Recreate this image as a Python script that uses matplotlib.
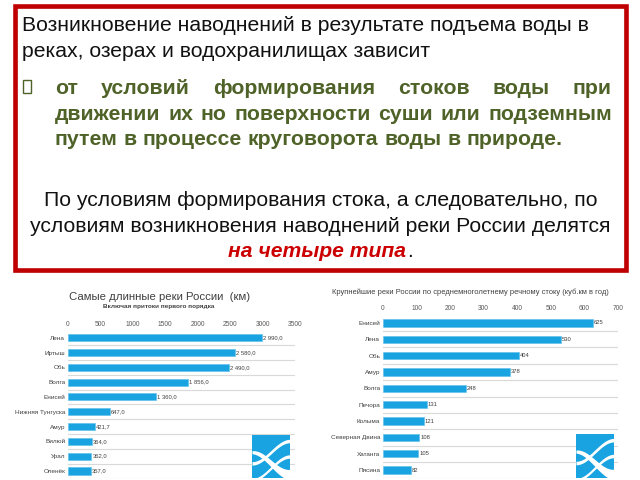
import numpy as np
import matplotlib
matplotlib.use("Agg")
import matplotlib.pyplot as plt
from matplotlib.patches import Rectangle

# ---------------- data ----------------
len_rivers = ["Лена", "Иртыш", "Обь", "Волга", "Енисей", "Нижняя Тунгуска",
              "Амур", "Вилюй", "Урал", "Оленёк"]
len_values = [2990.0, 2580.0, 2490.0, 1856.0, 1360.0, 647.0, 421.7, 364.0, 362.0, 357.0]
len_ticks = [0, 500, 1000, 1500, 2000, 2500, 3000, 3500]

flow_rivers = ["Енисей", "Лена", "Обь", "Амур", "Волга", "Печора", "Колыма",
               "Северная Двина", "Хатанга", "Пясина"]
flow_values = [625, 530, 404, 378, 248, 131, 121, 108, 105, 82]
flow_ticks = [0, 100, 200, 300, 400, 500, 600, 700]

line1 = "Возникновение наводнений в результате подъема воды в"
line2 = "реках, озерах и водохранилищах зависит"
bold_lines = ["от условий формирования стоков воды при",
              "движении их но поверхности суши или подземным",
              "путем в процессе круговорота воды в природе."]
line3 = "По условиям формирования стока, а следовательно, по"
line4 = "условиям возникновения наводнений реки России делятся"
red_part = "на четыре типа"
title_left = "Самые длинные реки России  (км)"
subtitle_left = "Включая притоки первого порядка"
title_right = "Крупнейшие реки России по среднемноголетнему речному стоку (куб.км в год)"

# ---------------- style ----------------
W, H = 640, 480
FONT = "Liberation Sans"
BAR = "#1AA3E1"
GRID = "#D9D9D9"
GREEN = "#4F6228"
DARKRED = "#C00000"

fig = plt.figure(figsize=(6.4, 4.8), dpi=100)
fig.patch.set_facecolor("white")
renderer = fig.canvas.get_renderer()


def fx(x):
    return x / W


def fy(y):
    return 1 - y / H


def text_px(x, y, s, **kw):
    kw.setdefault("family", FONT)
    return fig.text(fx(x), fy(y), s, **kw)


def width_px(t):
    return t.get_window_extent(renderer).width


def fit_size(s, target, **kw):
    t = text_px(0, 0, s, fontsize=10, **kw)
    w = width_px(t)
    t.remove()
    return 10 * target / w


# ---------------- red frame ----------------
fig.patches.append(Rectangle((fx(16), fy(271)), fx(626) - fx(16), fy(7) - fy(271),
                             transform=fig.transFigure, fill=False,
                             edgecolor="#9A9A9A", linewidth=3.0, alpha=0.35, zorder=4))
fig.patches.append(Rectangle((fx(15), fy(270)), fx(626) - fx(15), fy(6) - fy(270),
                             transform=fig.transFigure, fill=False,
                             edgecolor=DARKRED, linewidth=3.3, zorder=5))

# top text
fs1 = fit_size(line1, 570)
text_px(22, 31, line1, fontsize=fs1, color="#111111", va="baseline")
text_px(22, 57, line2, fontsize=fs1, color="#111111", va="baseline")

# bullet (missing-glyph box)
fig.patches.append(Rectangle((fx(23), fy(93)), fx(8), fy(80) - fy(93),
                             transform=fig.transFigure, fill=False,
                             edgecolor=GREEN, linewidth=1.0))

# justified bold green text
fsb = fit_size(bold_lines[2], 507, weight="bold")
bx0, bx1 = 55, 612
for i, (ln, base) in enumerate(zip(bold_lines, [94, 120, 145])):
    words = ln.split()
    ts = [text_px(0, base, w_, fontsize=fsb, weight="bold", color=GREEN,
                  va="baseline") for w_ in words]
    ws = [width_px(t) for t in ts]
    if i < len(bold_lines) - 1:
        gap = (bx1 - bx0 - sum(ws)) / (len(words) - 1)
    else:
        sp = text_px(0, 0, "a a", fontsize=fsb, weight="bold")
        sp2 = text_px(0, 0, "aa", fontsize=fsb, weight="bold")
        gap = width_px(sp) - width_px(sp2)
        sp.remove(); sp2.remove()
    x = bx0
    for t, w_ in zip(ts, ws):
        t.set_x(fx(x))
        x += w_ + gap

# lower centered text
fs4 = fit_size(line4, 584)
text_px(321, 206, line3, fontsize=fs4, color="#111111", va="baseline", ha="center")
text_px(320, 232, line4, fontsize=fs4, color="#111111", va="baseline", ha="center")
tr = text_px(0, 257, red_part, fontsize=fs4, weight="bold", style="italic",
             color="#CC0000", va="baseline")
td = text_px(0, 257, ".", fontsize=fs4, color="#111111", va="baseline")
wr, wd = width_px(tr), width_px(td)
xs = 320 - (wr + wd) / 2
tr.set_x(fx(xs))
td.set_x(fx(xs + wr + 1))


# ---------------- bar charts ----------------
def bar_chart(rect, names, vals, ticks, fmt, bar_h):
    ax = fig.add_axes(rect)
    y = np.arange(len(names))
    ax.barh(y, vals, height=bar_h, color=BAR, edgecolor="#5BBDEB", linewidth=0.4, zorder=3)
    ax.set_ylim(len(names) - 0.5, -0.5)
    ax.set_xlim(ticks[0], ticks[-1])
    for b in np.arange(len(names)) + 0.5:
        ax.axhline(b, color=GRID, linewidth=0.8, zorder=1)
    ax.set_yticks(y)
    ax.set_yticklabels(names, fontsize=4.6, color="#404040", family=FONT)
    ax.set_xticks(ticks)
    ax.set_xticklabels([str(t) for t in ticks], fontsize=4.8, color="#595959", family=FONT)
    ax.xaxis.tick_top()
    ax.tick_params(length=0, pad=2)
    for s in ax.spines.values():
        s.set_visible(False)
    for yi, v in zip(y, vals):
        ax.text(v + ticks[-1] * 0.004, yi, fmt(v), fontsize=4.2, color="#404040",
                va="center", ha="left", family=FONT, zorder=4)
    ax.patch.set_alpha(0)
    return ax


def fmt_len(v):
    s = f"{v:,.1f}"
    return s.replace(",", " ").replace(".", ",")


bar_chart([fx(68), fy(478.4), fx(295) - fx(68), fy(330.3) - fy(478.4)],
          len_rivers, len_values, len_ticks, fmt_len, 0.48)
bar_chart([fx(383), fy(478.2), fx(618) - fx(383), fy(314.8) - fy(478.2)],
          flow_rivers, flow_values, flow_ticks, lambda v: f"{v:d}", 0.46)

text_px(160, 297, title_left, fontsize=8.2, color="#404040", ha="center", va="center")
text_px(159, 306.5, subtitle_left, fontsize=4.6, weight="bold", color="#404040",
        ha="center", va="center")
text_px(332, 292, title_right, fontsize=5.4, color="#404040", ha="left", va="center")


# ---------------- logos ----------------
def logo(x0, y0, w, h):
    ax = fig.add_axes([fx(x0), fy(y0 + h), fx(w), fy(y0) - fy(y0 + h)])
    ax.set_xlim(0, 1)
    ax.set_ylim(1, 0)
    ax.axis("off")
    ax.add_patch(Rectangle((0, 0), 1, 1, color=BAR))
    t = np.linspace(0, 1, 100)
    s = 0.5 - 0.5 * np.cos(np.pi * t)
    for a, b, wa, wb in [(0.40, 0.92, 0.035, 0.12), (0.66, 0.14, 0.04, 0.04),
                         (1.04, 0.50, 0.03, 0.04)]:
        c = a + (b - a) * s
        hw = wa + (wb - wa) * t
        ax.fill_between(t, c - hw, c + hw, color="white", lw=0)


logo(252, 435, 38, 43)
logo(576, 434, 38, 44)

fig.savefig("out.png", dpi=100)
